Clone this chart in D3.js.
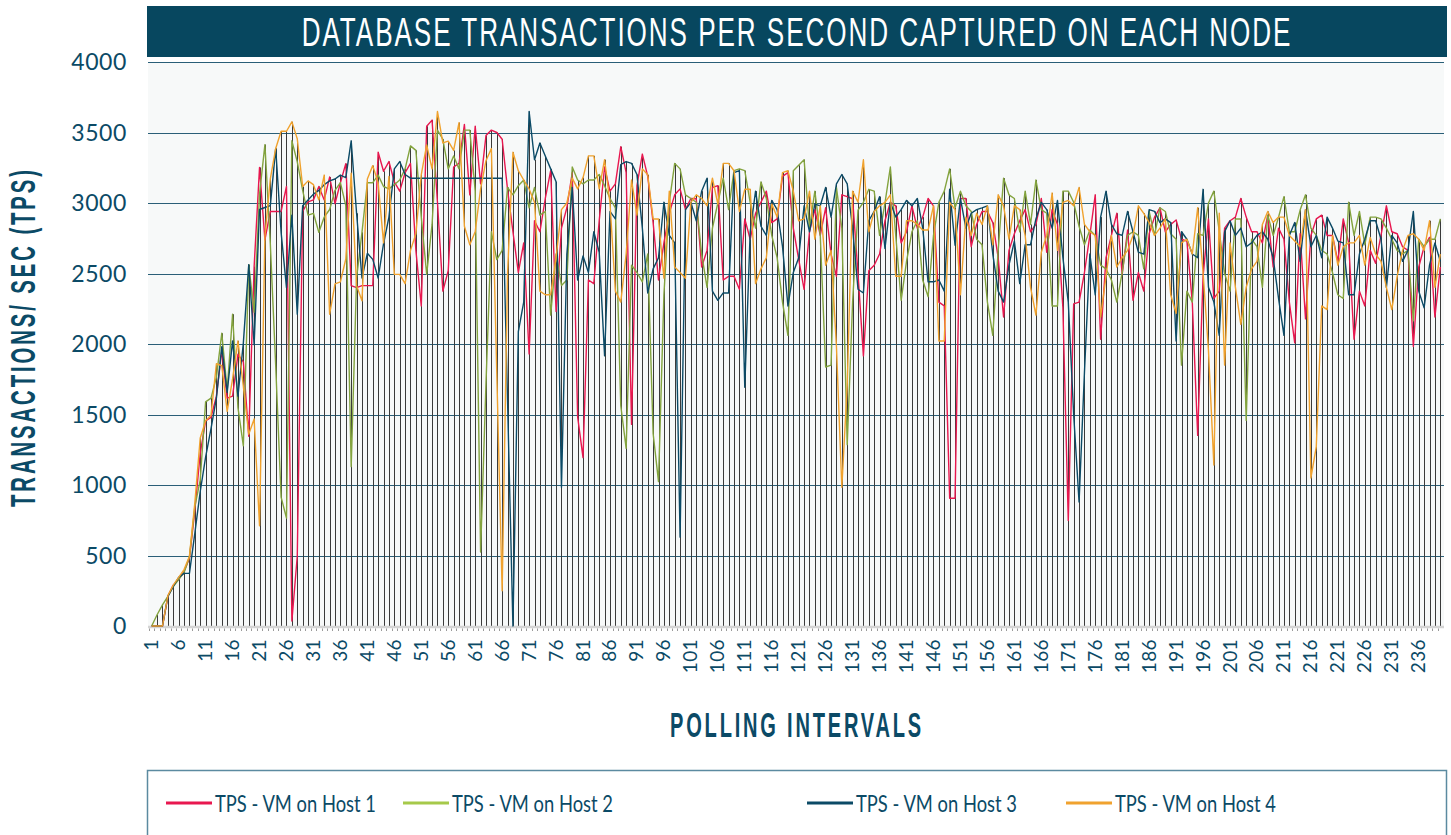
<!DOCTYPE html>
<html>
<head>
<meta charset="utf-8">
<script src="https://cdn.jsdelivr.net/npm/d3@7"></script>
<style>
  body { margin: 0; background: #fff; }
  svg { display: block; }
  .cond { font-family: "Liberation Sans", Arimo, "DejaVu Sans", sans-serif; }
  .lato { font-family: Lato, "Open Sans", sans-serif; }
</style>
</head>
<body>
<script>
// polling intervals 1..240
var intervals = d3.range(1, 241);

var host1 = [
  0, 0, 0, 210, 290, 330, 386, 480, 820, 1225,
  1455, 1480, 1630, 1955, 1616, 1630, 1927, 1873, 1346, 2549,
  3252, 2738, 2940, 2940, 2940, 3117, 35, 495, 2940, 3008,
  3022, 3117, 3022, 3184, 2995, 3144, 3279, 2414, 2400, 2414,
  2414, 2414, 3360, 3225, 3294, 3150, 3084, 3215, 3281, 2664,
  2270, 3544, 3588, 3005, 2375, 2520, 3255, 3281, 3557, 3058,
  3544, 3136, 3478, 3517, 3500, 3452, 3097, 2796, 2507, 2717,
  1929, 2874, 2796, 3032, 3229, 2231, 2822, 2966, 3215, 1483,
  1194, 2454, 2428, 2874, 3255, 3084, 3136, 3399, 3215, 1430,
  3123, 3347, 3189, 2861, 2454, 2717, 2927, 3058, 3100, 2953,
  3032, 3030, 2546, 2664, 3110, 3123, 2454, 2480, 2480, 2388,
  2887, 2743, 2927, 3005, 3084, 2861, 2887, 3189, 3215, 2822,
  2600, 2388, 2796, 2953, 2770, 2966, 2638, 2480, 3058, 3045,
  3030, 2500, 1916, 2520, 2559, 2638, 2874, 3005, 2980, 2717,
  2796, 2980, 2822, 2900, 3032, 2980, 2297, 2270, 906, 906,
  3032, 3032, 2690, 2848, 2940, 2940, 2861, 2612, 2192, 2664,
  2782, 2874, 2953, 2796, 2848, 3032, 2651, 2953, 2848, 2257,
  748, 2284, 2297, 2507, 2770, 3058, 2034, 2612, 2770, 2927,
  2494, 2808, 2310, 2507, 2375, 2782, 2900, 2966, 2796, 2848,
  2880, 2743, 2730, 2297, 1352, 2480, 2887, 2323, 2375, 2822,
  2874, 2900, 3032, 2900, 2796, 2796, 2717, 2914, 2546, 2822,
  2743, 2297, 2008, 2782, 2178, 2770, 2887, 2914, 2770, 2770,
  2586, 2887, 2717, 2034, 2375, 2270, 2664, 2572, 2770, 2980,
  2796, 2782, 2690, 2664, 1982, 2546, 2690, 2756, 2192, 2546
];

var host2 = [
  0, 80, 150, 210, 280, 330, 380, 490, 846, 1035,
  1590, 1616, 1765, 2076, 1670, 2211, 1549, 1278, 2562, 2225,
  3063, 3414, 2711, 1846, 914, 765, 3441, 3292, 3090, 2914,
  2927, 2792, 2900, 2954, 3090, 3144, 2981, 1130, 2468, 2792,
  3144, 3144, 3198, 3117, 3100, 3130, 3163, 3242, 3405, 3373,
  2900, 2494, 2848, 3517, 3452, 3242, 3334, 3242, 3517, 3517,
  3084, 525, 1719, 2796, 2599, 2664, 3110, 3058, 3123, 3163,
  2966, 3110, 2914, 2940, 2205, 2638, 2415, 2454, 3255, 3163,
  3136, 3163, 3163, 3202, 3123, 3032, 2966, 1562, 1260, 2559,
  2507, 2441, 2638, 1365, 1024, 2349, 3005, 3281, 3242, 3058,
  3032, 3005, 2638, 2402, 2822, 3000, 3176, 2953, 3229, 3242,
  3229, 3005, 2822, 3150, 3032, 2770, 2612, 2297, 2061, 3229,
  3268, 3307, 2822, 3084, 2770, 1837, 1850, 3110, 2822, 1286,
  2300, 2950, 3005, 3097, 3084, 2770, 3000, 3255, 2770, 2310,
  2586, 2796, 2874, 2454, 2336, 2770, 3005, 3084, 3242, 2966,
  3084, 2980, 2940, 2743, 2704, 2297, 2061, 2664, 3176, 3058,
  3032, 2796, 3084, 2848, 3163, 2953, 2927, 2270, 2270, 3084,
  3084, 3005, 2835, 2704, 2808, 2770, 2559, 2533, 2454, 2297,
  2507, 2770, 2796, 2770, 2533, 2940, 2770, 2966, 2940, 2782,
  2743, 1850, 2375, 2297, 2782, 2770, 3000, 3084, 2800, 2500,
  2375, 2887, 2887, 1457, 2743, 2690, 2402, 2914, 2770, 2900,
  3045, 2796, 2796, 2950, 3058, 2822, 2770, 2664, 2638, 2507,
  2349, 2323, 3005, 2770, 2940, 2704, 2900, 2900, 2887, 2822,
  2743, 2664, 2638, 2664, 2165, 2743, 2690, 2743, 2743, 2887
];

var host3 = [
  0, 0, 0, 210, 280, 345, 373, 373, 657, 954,
  1197, 1400, 1616, 1981, 1657, 2022, 1630, 2008, 2562, 1995,
  2954, 2968, 2981, 3387, 2792, 2400, 2914, 2211, 2981, 3022,
  3063, 3090, 3130, 3157, 3170, 3198, 3180, 3441, 2927, 2468,
  2643, 2600, 2468, 2711, 2900, 3242, 3294, 3202, 3176, 3176,
  3176, 3176, 3176, 3176, 3176, 3176, 3176, 3176, 3176, 3176,
  3176, 3176, 3176, 3176, 3176, 3176, 1600, 0, 2087, 2297,
  3649, 3307, 3426, 3334, 3242, 3150, 984, 2638, 3110, 2454,
  2625, 2507, 2796, 2651, 1916, 2940, 2887, 3273, 3294, 3281,
  3202, 2822, 2362, 2533, 2612, 3005, 2770, 2717, 630, 2953,
  3005, 2874, 3084, 3176, 2375, 2310, 2362, 2362, 3215, 3229,
  1693, 2796, 3084, 2835, 2770, 3018, 2953, 2690, 2270, 2507,
  2612, 2980, 2796, 2992, 2980, 3110, 2900, 3136, 3202, 3136,
  2822, 2388, 2362, 2874, 2940, 3045, 2677, 3005, 2900, 2953,
  3018, 2980, 3032, 2822, 2441, 2441, 2454, 2375, 3097, 2700,
  3032, 2822, 2927, 2953, 2966, 2980, 2638, 2375, 2297, 2559,
  2730, 2428, 2704, 2704, 2887, 3005, 2953, 2822, 3018, 2612,
  2297, 1500, 879, 1800, 2638, 2349, 2900, 3084, 2848, 2782,
  2770, 2940, 2796, 2651, 2638, 2953, 2940, 2861, 2887, 2861,
  2021, 2796, 2743, 2638, 2612, 3097, 2402, 2297, 2061, 2796,
  2874, 2770, 2822, 2690, 2717, 2770, 2796, 2743, 2612, 2323,
  2061, 2770, 2861, 2586, 2953, 2690, 2770, 2612, 2900, 2822,
  2730, 2717, 2349, 2349, 2638, 2743, 2874, 2874, 2743, 2402,
  2770, 2717, 2586, 2664, 2940, 2375, 2257, 2559, 2717, 2586
];

var host4 = [
  0, 0, 0, 215, 290, 345, 400, 495, 873, 1333,
  1455, 1495, 1860, 1846, 1522, 1752, 2022, 1700, 1360, 1468,
  711, 2765, 3171, 3387, 3509, 3509, 3576, 3455, 3117, 3157,
  3130, 3022, 3198, 2211, 2427, 2440, 2603, 3211, 2414, 2306,
  3171, 3265, 3144, 2717, 3189, 2494, 2494, 2428, 2664, 2782,
  3202, 3412, 3242, 3649, 3426, 3439, 3373, 3570, 2835, 2704,
  2796, 3100, 3300, 3386, 1800, 250, 2500, 3360, 3229, 3163,
  3100, 3005, 2375, 2349, 2349, 2612, 2953, 3000, 3176, 3100,
  3180, 3334, 3334, 3100, 3307, 3000, 2375, 2297, 2638, 3163,
  2914, 3242, 3200, 2887, 2887, 2467, 3084, 2546, 2507, 2467,
  3005, 3058, 3032, 2980, 3176, 2992, 3281, 3281, 3229, 2940,
  3097, 3097, 2428, 2533, 2612, 2992, 2900, 3215, 3229, 3084,
  2874, 2887, 3084, 2743, 2980, 2559, 2664, 1982, 984, 1706,
  3084, 3005, 3307, 2796, 2940, 2980, 3005, 3058, 2480, 2480,
  2874, 2874, 2848, 2808, 2808, 2980, 2021, 2021, 3005, 2953,
  2349, 2900, 2770, 2927, 2848, 2980, 2704, 3058, 2980, 2743,
  2980, 2953, 2770, 2402, 2205, 2651, 2770, 3071, 2664, 3005,
  3018, 2980, 3110, 2848, 2796, 2770, 2192, 2480, 2770, 2546,
  2612, 2664, 2770, 2980, 2927, 2861, 2770, 2822, 2887, 2349,
  2218, 2717, 2743, 2638, 2966, 2507, 1955, 1142, 2927, 1850,
  2717, 2402, 2139, 2402, 2533, 2586, 2848, 2940, 2861, 2900,
  2900, 2770, 2730, 2690, 2953, 1050, 1273, 2270, 2244, 2770,
  2559, 2690, 2717, 2717, 2770, 2559, 2756, 2638, 2586, 2402,
  2244, 2480, 2664, 2770, 2782, 2743, 2664, 2874, 2402, 2638
];

var seriesNames = ['TPS - VM on Host 1', 'TPS - VM on Host 2', 'TPS - VM on Host 3', 'TPS - VM on Host 4'];
var lineColors = ['#e8174f', '#83a33e', '#0b4a66', '#f0a22e'];
var legendColors = ['#e8174f', '#a6c94a', '#0b4a66', '#f0a22e'];
var yTicks = [0, 500, 1000, 1500, 2000, 2500, 3000, 3500, 4000];
var xTickLabels = intervals.filter(function(d) { return (d - 1) % 5 === 0; });

var allSeries = [host1, host2, host3, host4];
var textColor = '#0b4a66';

var width = 1451,
    height = 835;

var svg = d3.select('body')
  .append('svg')
  .attr('width', width)
  .attr('height', height);

// text squeezed horizontally to a given width (the original uses a condensed face)
function condensedText(parent, tx, ty, rot, target, anchor) {
  var g = parent.append('g');
  var t = g.append('text')
    .attr('text-anchor', anchor || 'middle');
  return {
    g: g,
    t: t,
    fit: function() {
      var s = target / t.node().getComputedTextLength();
      g.attr('transform', 'translate(' + tx + ',' + ty + ') rotate(' + rot + ') scale(' + s.toFixed(4) + ',1)');
    }
  };
}

// title bar
svg.append('rect')
  .attr('x', 147).attr('y', 6)
  .attr('width', 1300).attr('height', 51)
  .attr('fill', '#07475f');

var title = condensedText(svg, 797, 46, 0, 991);
title.t
  .attr('class', 'cond')
  .attr('fill', '#fff')
  .attr('font-size', 40)
  .attr('letter-spacing', 3)
  .text('DATABASE TRANSACTIONS PER SECOND CAPTURED ON EACH NODE');
title.fit();

// plot area
var plotLeft = 148, plotRight = 1444;

var x = d3.scaleBand()
  .domain(intervals)
  .range([149, 1443]);

var y = d3.scaleLinear()
  .domain([0, 4000])
  .range([626, 62]);

var cx = function(d) { return x(d) + x.bandwidth() / 2; };

svg.append('rect')
  .attr('x', plotLeft).attr('y', 62)
  .attr('width', plotRight - plotLeft).attr('height', 564)
  .attr('fill', '#f7f9f9');

// gridlines
svg.append('g')
  .selectAll('line')
  .data(yTicks.filter(function(d) { return d > 0; }))
  .enter().append('line')
  .attr('x1', plotLeft).attr('x2', plotRight)
  .attr('y1', function(d) { return Math.round(y(d)) + 0.5; })
  .attr('y2', function(d) { return Math.round(y(d)) + 0.5; })
  .attr('stroke', '#2a5f78')
  .attr('stroke-width', 1);

// y tick labels
svg.append('g')
  .selectAll('text')
  .data(yTicks)
  .enter().append('text')
  .attr('class', 'lato')
  .attr('x', 127)
  .attr('y', function(d) { return y(d); })
  .attr('dy', '0.36em')
  .attr('text-anchor', 'end')
  .attr('font-size', 23)
  .attr('letter-spacing', 0.6)
  .attr('fill', textColor)
  .text(function(d) { return d; });

// drop lines from the highest point down to the axis
svg.append('g')
  .selectAll('line')
  .data(intervals)
  .enter().append('line')
  .attr('x1', function(d) { return Math.round(cx(d)) + 0.5; })
  .attr('x2', function(d) { return Math.round(cx(d)) + 0.5; })
  .attr('y1', function(d, i) { return y(d3.max(allSeries, function(s) { return s[i]; })); })
  .attr('y2', y(0))
  .attr('stroke', '#3a3a3a')
  .attr('stroke-width', 1);

// x axis baseline and small ticks
svg.append('line')
  .attr('x1', plotLeft).attr('x2', plotRight)
  .attr('y1', y(0) + 1).attr('y2', y(0) + 1)
  .attr('stroke', '#d4d4d4')
  .attr('stroke-width', 2.5);

svg.append('g')
  .selectAll('line')
  .data(intervals)
  .enter().append('line')
  .attr('x1', function(d) { return Math.round(x(d)) + 0.5; })
  .attr('x2', function(d) { return Math.round(x(d)) + 0.5; })
  .attr('y1', y(0) + 2.5).attr('y2', y(0) + 5)
  .attr('stroke', '#9a9a9a')
  .attr('stroke-width', 1);

// series
var line = d3.line()
  .x(function(d, i) { return cx(intervals[i]); })
  .y(function(d) { return y(d); });

svg.append('g')
  .selectAll('path')
  .data(allSeries)
  .enter().append('path')
  .attr('d', line)
  .attr('fill', 'none')
  .attr('stroke', function(d, i) { return lineColors[i]; })
  .attr('stroke-width', 1.4)
  .attr('stroke-linejoin', 'round');

// x tick labels
svg.append('g')
  .selectAll('text')
  .data(xTickLabels)
  .enter().append('text')
  .attr('class', 'lato')
  .attr('transform', function(d) { return 'translate(' + (cx(d) + 6.5) + ',639) rotate(-90)'; })
  .attr('text-anchor', 'end')
  .attr('font-size', 19)
  .attr('letter-spacing', 0.4)
  .attr('fill', textColor)
  .text(function(d) { return d; });

// axis titles
var yTitle = condensedText(svg, 35, 337, -90, 340);
yTitle.t
  .attr('class', 'cond')
  .attr('font-size', 35)
  .attr('font-weight', 'bold')
  .attr('letter-spacing', 5)
  .attr('fill', textColor)
  .text('TRANSACTIONS/ SEC (TPS)');
yTitle.fit();

var xTitle = condensedText(svg, 797, 737, 0, 254);
xTitle.t
  .attr('class', 'cond')
  .attr('font-size', 36)
  .attr('font-weight', 'bold')
  .attr('letter-spacing', 5)
  .attr('fill', textColor)
  .text('POLLING INTERVALS');
xTitle.fit();

// legend
svg.append('rect')
  .attr('x', 147.5).attr('y', 770.5)
  .attr('width', 1299).attr('height', 90)
  .attr('fill', '#fff')
  .attr('stroke', '#5b8aa0')
  .attr('stroke-width', 1.5);

var legendX = [166, 403, 807, 1066];

seriesNames.forEach(function(name, i) {
  var item = svg.append('g')
    .attr('transform', 'translate(' + legendX[i] + ',803)');

  item.append('line')
    .attr('x1', 0).attr('x2', 46)
    .attr('stroke', legendColors[i])
    .attr('stroke-width', 3);

  var label = condensedText(item, 49, 9, 0, 161, 'start');
  label.t
    .attr('class', 'lato')
    .attr('font-size', 24)
    .attr('fill', textColor)
    .text(name);
  label.fit();
});
</script>
</body>
</html>
